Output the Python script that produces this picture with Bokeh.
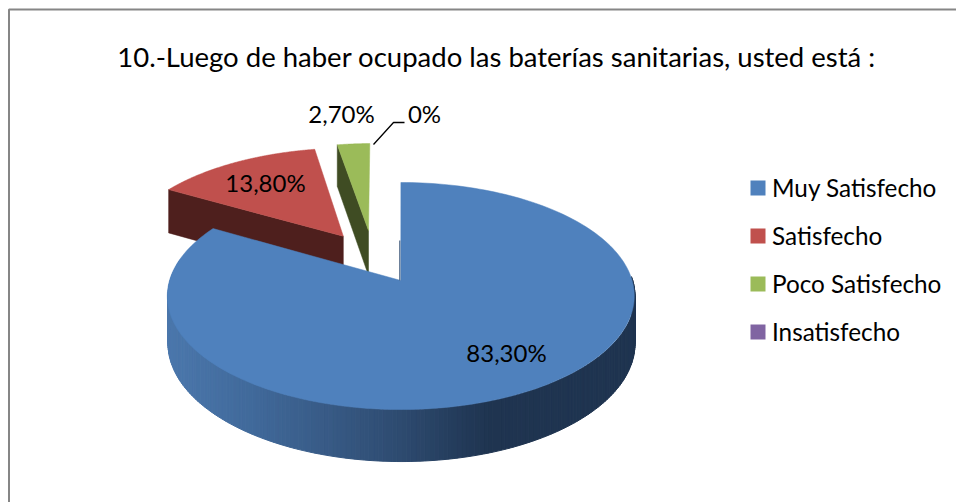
import numpy as np
from bokeh.plotting import figure
from bokeh.models import Range1d
from bokeh.core.properties import value
from bokeh.embed import file_html
from bokeh.resources import INLINE

title_text = "10.-Luego de haber ocupado las baterías sanitarias, usted está :"
categories = ["Muy Satisfecho", "Satisfecho", "Poco Satisfecho", "Insatisfecho"]
percent = [83.3, 13.8, 2.7, 0.0]
labels = ["83,30%", "13,80%", "2,70%", "0%"]
colors = ["#4f81bd", "#c0504d", "#9bbb59", "#8064a2"]
wall_colors = ["#2e4b70", "#4e1f1d", "#3f4c23", "#3c2f52"]

OX, OY, A, B, K = 401.0, 280.0, 111.4, 231.3, 0.1366
explode = [(-0.003, 0.0), (-0.266, 0.42), (-0.152, 0.478), (0.0, 0.0)]


def project(theta, dx=0.0, dy=0.0):
    t = np.radians(theta)
    u, v = np.sin(t) + dx, np.cos(t) + dy
    s = 1.0 / (1.0 + K * v)
    return OX + B * u * s, OY - A * v * s, 14.5 + 32.4 * s


def apex(dx, dy):
    s = 1.0 / (1.0 + K * dy)
    return OX + B * dx * s, OY - A * dy * s, 14.5 + 32.4 * s


W, H = 956, 502
p = figure(width=W, height=H, x_range=Range1d(0, W), y_range=Range1d(H, 0),
           output_backend="svg", toolbar_location=None, min_border=0,
           outline_line_color=None, background_fill_color="white")
p.axis.visible = False
p.grid.visible = False

p.line([8.5, 8.5, W], [H, 9, 9], line_color="#868686", line_width=2)

bounds = np.cumsum([0.0] + percent) * 3.6


def top_patch(i):
    a0, a1 = bounds[i], bounds[i + 1]
    dx, dy = explode[i]
    th = np.linspace(a0, a1, 200)
    x, y, _ = project(th, dx, dy)
    ax, ay, _ = apex(dx, dy)
    return np.r_[ax, x], np.r_[ay, y]


def start_wall(i):
    dx, dy = explode[i]
    x0, y0, d0 = project(bounds[i], dx, dy)
    ax, ay, d1 = apex(dx, dy)
    return [x0, ax, ax, x0], [y0, ay, ay + d1, y0 + d0]


for i in (1, 2):
    wx, wy = start_wall(i)
    p.patch(wx, wy, fill_color=wall_colors[i], line_color=wall_colors[i], line_width=0.5)
    tx, ty = top_patch(i)
    p.patch(tx, ty, fill_color=colors[i], line_color=colors[i], line_width=0.5)

stop_x = [165, 250, 330, 400, 490, 640]
stop_rgb = np.array([[0x4c, 0x78, 0xad], [0x41, 0x6a, 0x9b], [0x38, 0x5a, 0x85],
                     [0x2e, 0x4b, 0x70], [0x1f, 0x34, 0x50], [0x1f, 0x34, 0x50]], float)
ths = np.arange(88, 282, 1.0)
xs, ys, cs = [], [], []
for a, b in zip(ths[:-1], ths[1:]):
    xa, ya, da = project(a)
    xb, yb, db = project(b)
    xs.append([xa, xb, xb, xa])
    ys.append([ya, yb, yb + db, ya + da])
    xm = (xa + xb) / 2
    rgb = [int(np.interp(xm, stop_x, stop_rgb[:, c])) for c in range(3)]
    cs.append("#%02x%02x%02x" % tuple(rgb))
p.patches(xs, ys, fill_color=cs, line_color=cs, line_width=1)

tx, ty = top_patch(0)
p.patch(tx, ty, fill_color=colors[0], line_color=colors[0], line_width=0.5)
ax0, ay0, _ = apex(*explode[0])
p.line([ax0 - 1, ax0 - 1], [ay0 - 40, ay0], line_color="#2e4b70", line_width=1)

lab_x = [506, 265, 341, 424]
lab_y = [352, 182, 113, 113]
p.text(lab_x, lab_y, text=labels, text_font=value("Lato"), text_font_size=value("24px"),
       text_align="center", text_baseline="middle", text_color="#000000")
p.line([373, 393, 404], [144, 122, 122], line_color="#000000", line_width=1.3)

p.text([496], [56], text=[title_text], text_font=value("Lato"), text_font_size=value("27.5px"),
       text_align="center", text_baseline="middle", text_color="#000000")

leg_y = [187.5, 235.5, 283.5, 331.5]
p.rect([757.5] * 4, leg_y, width=15, height=15, fill_color=colors, line_color=None)
p.text([771.5] * 4, [y - 1 for y in leg_y], text=categories, text_font=value("Lato"),
       text_font_size=value("24.3px"), text_align="left", text_baseline="middle",
       text_color="#000000")

open("out.html", "w").write(file_html(p, INLINE))
